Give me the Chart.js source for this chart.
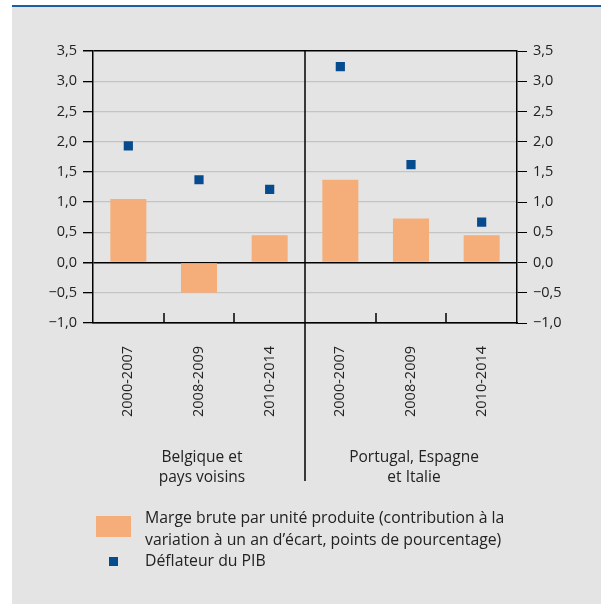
<!DOCTYPE html>
<html>
<head>
<meta charset="utf-8">
<script src="https://cdn.jsdelivr.net/npm/chart.js@4"></script>
<style>
body{margin:0;background:#fff;}
#wrap{position:relative;width:601px;height:604px;overflow:hidden;}
#bg{position:absolute;left:12px;top:5px;right:0;bottom:0;background:#e4e4e4;border-top:2px solid #1d5da4;}
canvas{position:absolute;left:0;top:0;}
.leg{position:absolute;font-family:"Open Sans";font-size:15.8px;color:#222;line-height:21.5px;white-space:nowrap;}
</style>
</head>
<body>
<div id="wrap">
  <div id="bg"></div>
  <canvas id="myChart" width="601" height="604"></canvas>
  <div style="position:absolute;left:96px;top:516px;width:35px;height:21px;background:#f5ae7a;"></div>
  <div class="leg" style="left:145px;top:507px;">Marge brute par unité produite (contribution à la<br>variation à un an d’écart, points de pourcentage)</div>
  <div style="position:absolute;left:109px;top:557px;width:9px;height:9px;background:#064b8e;"></div>
  <div class="leg" style="left:145px;top:550px;">Déflateur du PIB</div>
</div>
<script>
//data
var periods = ["2000-2007", "2008-2009", "2010-2014", "2000-2007", "2008-2009", "2010-2014"];
var groups = [["Belgique et", "pays voisins"], ["Portugal, Espagne", "et Italie"]];
var marge = [1.05, -0.5, 0.45, 1.37, 0.73, 0.45];
var deflateur = [1.93, 1.37, 1.21, 3.24, 1.62, 0.67];

Chart.defaults.font.family = "Open Sans";
Chart.defaults.color = "#222";

function fmt(v) {
   return v.toFixed(1).replace(".", ",").replace("-", "\u2212");
}

//little ticks at the bottom, the divider and the group names
var extras = {
   id: "extras",
   afterDraw: function(chart) {
      var ctx = chart.ctx;
      var x = chart.scales.x;
      var area = chart.chartArea;
      var step = x.getPixelForValue(1) - x.getPixelForValue(0);
      ctx.save();
      ctx.strokeStyle = "#000";
      ctx.lineWidth = 1.5;
      for (var i = 1; i < periods.length; i++) {
         var px = Math.round(x.getPixelForValue(i) - step / 2);
         ctx.beginPath();
         if (i == 3) {
            ctx.moveTo(px, area.top);
            ctx.lineTo(px, 481);
         } else {
            ctx.moveTo(px, area.bottom);
            ctx.lineTo(px, area.bottom - 10);
         }
         ctx.stroke();
      }
      ctx.fillStyle = "#222";
      ctx.font = "15.5px 'Open Sans'";
      ctx.textAlign = "center";
      for (var g = 0; g < groups.length; g++) {
         var cx = x.getPixelForValue(g * 3 + 1) + 3;
         ctx.fillText(groups[g][0], cx, 462);
         ctx.fillText(groups[g][1], cx, 482);
      }
      ctx.restore();
   }
};

var ctx = document.getElementById("myChart").getContext("2d");
var chart = new Chart(ctx, {
   type: "bar",
   data: {
      labels: periods,
      datasets: [{
         type: "line",
         label: "Déflateur du PIB",
         data: deflateur,
         showLine: false,
         pointStyle: "rect",
         pointRadius: 6.5,
         pointBorderWidth: 0,
         backgroundColor: "#064b8e",
         borderColor: "#064b8e"
      }, {
         label: "Marge brute par unité produite",
         data: marge,
         backgroundColor: "#f5ae7a",
         barPercentage: 0.51,
         categoryPercentage: 1
      }]
   },
   plugins: [extras],
   options: {
      responsive: false,
      animation: false,
      layout: { padding: { top: 51, left: 0, right: 0, bottom: 0 } },
      plugins: { legend: { display: false }, tooltip: { enabled: false } },
      scales: {
         x: {
            grid: { display: false },
            border: { display: true, color: "#000", width: 1.5 },
            ticks: { autoSkip: false, minRotation: 90, maxRotation: 90, padding: 15, font: { size: 14.5 } },
            afterFit: function(s) { s.height = 281; }
         },
         y: {
            position: "left",
            min: -1, max: 3.5,
            ticks: { stepSize: 0.5, padding: 6, font: { size: 14.5 }, callback: function(v) { return fmt(v); } },
            grid: {
               color: function(c) {
                  var v = c.tick ? c.tick.value : 0;
                  return (v == 0 || v == 3.5 || v == -1) ? "#000" : "#c4c4c4";
               },
               lineWidth: function(c) {
                  var v = c.tick ? c.tick.value : 0;
                  return (v == 0 || v == 3.5) ? 1.5 : 1.3;
               },
               tickColor: "#000",
               tickLength: 10
            },
            border: { display: true, color: "#000", width: 1.5 },
            afterFit: function(s) { s.width = 93; }
         },
         y2: {
            position: "right",
            min: -1, max: 3.5,
            ticks: { stepSize: 0.5, padding: 6, font: { size: 14.5 }, callback: function(v) { return fmt(v); } },
            grid: { drawOnChartArea: false, tickColor: "#000", tickLength: 10 },
            border: { display: true, color: "#000", width: 1.5 },
            afterFit: function(s) { s.width = 84; }
         }
      }
   }
});
</script>
</body>
</html>
